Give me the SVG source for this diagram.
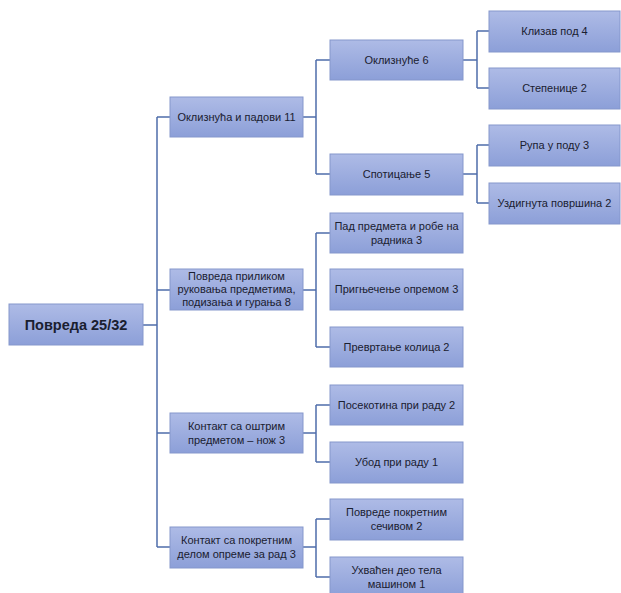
<svg xmlns="http://www.w3.org/2000/svg" width="621" height="593" viewBox="0 0 621 593">
<defs>
<linearGradient id="g" x1="0" y1="0" x2="0" y2="1">
<stop offset="0" stop-color="#aebbe6"/>
<stop offset="1" stop-color="#8c9fd8"/>
</linearGradient>
<style>
.b{fill:url(#g);stroke:#8597cc;stroke-width:1}
.t{font-family:"Liberation Sans",Arial,sans-serif;font-size:11px;fill:#1a2030;text-anchor:middle}
.r{font-size:14.5px;font-weight:bold}
.c{fill:none;stroke:#4f6dab;stroke-width:1.5}
</style>
</defs>
<rect width="621" height="593" fill="#fff"/>
<g id="connectors">
<path class="c" d="M143 325H157M157 117V547M157 117H170M157 290H170M157 433H170M157 547H170"/>
<path class="c" d="M303 117H316M316 60V174M316 60H330M316 174H330"/>
<path class="c" d="M463 60H477M477 31V88M477 31H489M477 88H489"/>
<path class="c" d="M463 174H477M477 145V203M477 145H489M477 203H489"/>
<path class="c" d="M303 290H316M316 233V347M316 233H330M316 347H330"/>
<path class="c" d="M303 433H316M316 405V462M316 405H330M316 462H330"/>
<path class="c" d="M303 547H316M316 519V577M316 519H330M316 577H330"/>
</g>
<g id="root"><rect class="b" x="9" y="304" width="134" height="41"/><text class="t r" x="76" y="330">Повреда 25/32</text></g>
<g id="n1"><rect class="b" x="170" y="97" width="133" height="40"/><text class="t" x="236.5" y="121">Оклизнућа и падови 11</text></g>
<g id="n2"><rect class="b" x="170" y="269" width="133" height="41"/><text class="t" x="236.5" y="280">Повреда приликом</text><text class="t" x="236.5" y="293">руковања предметима,</text><text class="t" x="236.5" y="306">подизања и гурања 8</text></g>
<g id="n3"><rect class="b" x="170" y="413" width="133" height="40"/><text class="t" x="236.5" y="430">Контакт са оштрим</text><text class="t" x="236.5" y="444">предметом – нож 3</text></g>
<g id="n4"><rect class="b" x="170" y="527" width="133" height="41"/><text class="t" x="236.5" y="544">Контакт са покретним</text><text class="t" x="236.5" y="558">делом опреме за рад 3</text></g>
<g id="n11"><rect class="b" x="330" y="40" width="133" height="40"/><text class="t" x="396.5" y="64">Оклизнуће 6</text></g>
<g id="n12"><rect class="b" x="330" y="154" width="133" height="41"/><text class="t" x="396.5" y="178">Спотицање 5</text></g>
<g id="n111"><rect class="b" x="489" y="11" width="131" height="41"/><text class="t" x="554.5" y="35">Клизав под 4</text></g>
<g id="n112"><rect class="b" x="489" y="68" width="131" height="41"/><text class="t" x="554.5" y="92">Степенице 2</text></g>
<g id="n121"><rect class="b" x="489" y="125" width="131" height="41"/><text class="t" x="554.5" y="149">Рупа у поду 3</text></g>
<g id="n122"><rect class="b" x="489" y="183" width="131" height="41"/><text class="t" x="554.5" y="207">Уздигнута површина 2</text></g>
<g id="n21"><rect class="b" x="330" y="213" width="133" height="40"/><text class="t" x="396.5" y="230">Пад предмета и робе на</text><text class="t" x="396.5" y="244">радника 3</text></g>
<g id="n22"><rect class="b" x="330" y="269" width="133" height="41"/><text class="t" x="396.5" y="293">Пригњечење опремом 3</text></g>
<g id="n23"><rect class="b" x="330" y="327" width="133" height="40"/><text class="t" x="396.5" y="351">Превртање колица 2</text></g>
<g id="n31"><rect class="b" x="330" y="385" width="133" height="40"/><text class="t" x="396.5" y="409">Посекотина при раду 2</text></g>
<g id="n32"><rect class="b" x="330" y="442" width="133" height="41"/><text class="t" x="396.5" y="466">Убод при раду 1</text></g>
<g id="n41"><rect class="b" x="330" y="499" width="133" height="41"/><text class="t" x="396.5" y="516">Повреде покретним</text><text class="t" x="396.5" y="530">сечивом 2</text></g>
<g id="n42"><rect class="b" x="330" y="557" width="133" height="40"/><text class="t" x="396.5" y="574">Ухваћен део тела</text><text class="t" x="396.5" y="588">машином 1</text></g>
</svg>
